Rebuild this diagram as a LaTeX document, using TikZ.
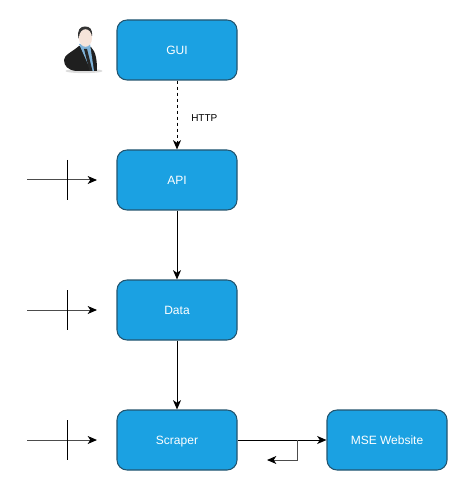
\documentclass[tikz,border=0pt]{standalone}
\usepackage{fontspec}
\setmainfont{Liberation Sans}
\usetikzlibrary{arrows.meta}
\definecolor{boxblue}{HTML}{1BA1E2}
\definecolor{boxline}{HTML}{23556F}
\definecolor{shirt}{HTML}{7FB2D8}
\definecolor{skin}{HTML}{F6E4DA}
\tikzset{
  x=0.75pt,y=-0.75pt,
  tip/.style={-{Stealth[length=7pt,width=6pt,inset=2pt,color=black]}},
  box/.style={draw=boxline,fill=boxblue,line width=0.8pt,rounded corners=7.5pt,minimum width=90pt,minimum height=45pt,inner sep=0pt,text=white,text height=6.4pt,text depth=0pt,font=\fontsize{9}{11}\selectfont},
  conn/.style={tip,line width=0.75pt,draw=black},
  grayconn/.style={tip,line width=0.75pt,draw=black!70},
  tickline/.style={line width=0.75pt,draw=black},
}
\begin{document}
\begin{tikzpicture}
\useasboundingbox (0,0) rectangle (468,491);
\node[box] (gui) at (177,50) {GUI};
\node[box] (api) at (177,180) {API};
\node[box] (data) at (177,310) {Data};
\node[box] (scraper) at (177,440) {Scraper};
\node[box] (mse) at (387,440) {MSE Website};
\node[font=\fontsize{7.5}{9}\selectfont,anchor=west,inner sep=0pt] (http) at (191,118) {HTTP};
\draw[conn,dash pattern=on 2.25pt off 2.25pt] (gui) -- (api);
\draw[conn] (api) -- (data);
\draw[conn] (data) -- (scraper);
\draw[conn] (scraper) -- (mse);
\coordinate (a1) at (27,180); \coordinate (a2) at (27,310); \coordinate (a3) at (27,440);
\coordinate (e1) at (97,180); \coordinate (e2) at (97,310); \coordinate (e3) at (97,440);
\coordinate (t1a) at (67,160); \coordinate (t1b) at (67,200);
\coordinate (t2a) at (67,290); \coordinate (t2b) at (67,330);
\coordinate (t3a) at (67,420); \coordinate (t3b) at (67,460);
\draw[grayconn] (a1) -- (e1);
\draw[grayconn] (a2) -- (e2);
\draw[grayconn] (a3) -- (e3);
\draw[tickline] (t1a) -- (t1b);
\draw[tickline] (t2a) -- (t2b);
\draw[tickline] (t3a) -- (t3b);
\coordinate (b0) at (297,440); \coordinate (b1) at (297,460); \coordinate (b2) at (267,460);
\draw[grayconn] (b0) -- (b1) -- (b2);
% person
\fill[gray!60,opacity=.45] (84,71) ellipse [x radius=14pt,y radius=1.6pt];
\fill[black!88] (64,60) .. controls (64,55) and (72,52) .. (79,46) -- (91,47) .. controls (96,52) and (97,60) .. (97,71) -- (76,71) .. controls (68,70) and (64,66) .. (64,60) -- cycle;
\fill[shirt] (79,44) -- (90,44) -- (94,71) -- (91,71) -- cycle;
\fill[black!85] (84,49) -- (87,49) -- (92.5,71) -- (89.5,71) -- cycle;
\fill[black!80] (78.5,38) .. controls (77,30) and (80,26.5) .. (85,26.5) .. controls (90,26.5) and (92.5,29) .. (92,36) -- (90,38) -- (80,40) -- cycle;
\fill[skin] (85.5,38) ellipse [x radius=4.9pt,y radius=6.6pt];
\end{tikzpicture}
\end{document}
